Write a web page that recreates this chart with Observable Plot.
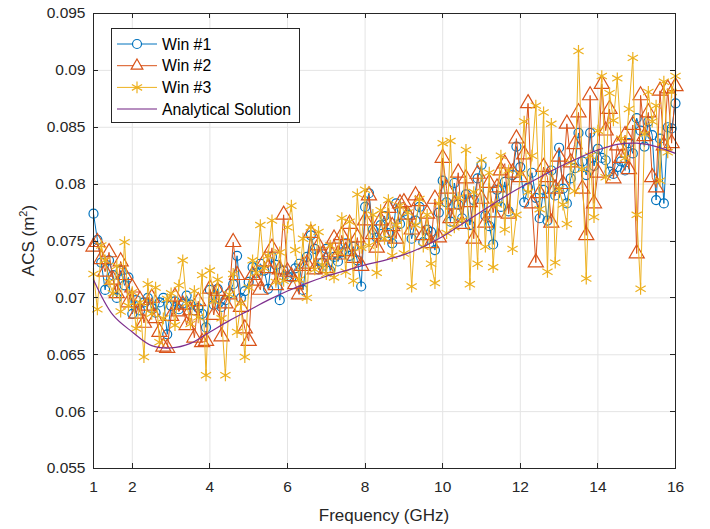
<!DOCTYPE html>
<html><head><meta charset="utf-8">
<script src="https://cdn.jsdelivr.net/npm/d3@7"></script>
<script src="https://cdn.jsdelivr.net/npm/@observablehq/plot@0.6"></script>
<style>
body{margin:0;background:#fff;}
#chart{width:710px;height:529px;}
</style></head><body><div id="chart"></div>
<script>
// Frequency grid (GHz): 1.0 to 16.0 in 0.1 GHz steps
const freqStart = 1, freqStep = 0.1;
// ACS values in units of 1e-3 m^2, one per frequency
const win1 = [
77.4,75.1,73.1,70.7,73.3,72.0,70.0,72.4,71.1,71.8,
68.6,69.8,68.9,69.6,70.0,69.1,68.7,69.6,70.0,66.8,
69.3,69.7,69.0,69.5,70.2,69.4,68.9,69.1,68.6,67.4,
70.7,69.4,70.8,69.2,69.8,70.4,71.2,73.7,70.0,70.6,
71.4,72.7,72.2,73.0,72.4,70.8,73.6,72.9,69.8,72.4,
71.9,71.8,72.6,73.0,70.7,73.6,75.5,74.3,72.5,73.1,
74.3,72.4,73.6,73.2,74.0,74.8,73.7,74.5,73.3,71.0,
78.0,79.2,76.0,75.3,76.4,77.2,75.7,74.8,78.3,76.5,
77.6,77.3,75.2,76.8,78.0,74.9,76.0,75.8,74.2,77.5,
80.3,78.4,76.7,80.1,78.2,77.0,79.1,76.4,78.6,80.5,
81.7,77.2,76.3,74.7,79.5,78.0,80.2,77.6,80.8,83.3,
81.5,78.4,79.7,81.0,78.8,77.0,79.5,76.8,81.2,79.0,
83.2,79.6,78.3,80.5,81.4,84.5,82.0,80.8,84.5,81.6,
83.1,82.3,82.1,81.1,80.9,81.5,82.0,81.2,83.6,82.7,
85.8,84.7,83.3,85.5,84.3,78.6,84.0,78.3,85.0,84.9,
87.1];
const win2 = [
74.5,74.9,73.4,72.3,74.0,71.6,70.4,73.2,72.0,69.6,
70.9,68.6,69.8,67.8,69.3,70.0,68.2,67.0,65.7,65.6,
68.4,70.1,68.8,69.4,67.6,68.9,66.5,69.7,66.1,66.2,
70.8,68.5,70.6,66.6,69.5,70.3,74.9,72.0,69.2,67.3,
66.2,72.0,71.5,70.7,73.2,72.6,74.4,71.1,72.5,77.3,
72.3,71.9,71.2,70.3,72.8,73.0,75.7,72.5,74.6,73.8,
72.6,74.0,75.2,73.8,75.5,74.1,76.5,73.5,75.3,72.8,
76.8,79.0,75.6,74.4,76.8,75.4,77.9,76.3,75.2,78.3,
78.4,77.3,76.0,79.0,78.5,75.5,77.4,74.8,78.7,75.3,
82.3,79.6,77.0,78.2,81.0,76.5,80.5,78.4,75.2,80.9,
78.7,76.6,80.1,77.5,79.7,81.2,81.8,77.4,81.0,84.0,
80.6,82.6,87.1,78.3,73.1,79.2,81.5,80.6,76.6,79.6,
82.4,80.0,85.3,81.9,83.5,86.3,79.6,75.5,87.8,78.3,
81.0,88.8,84.7,86.6,80.5,83.4,82.3,84.3,81.3,85.2,
73.9,87.8,84.2,86.3,80.6,79.7,88.2,83.4,88.4,83.6,
88.6];
const win3 = [
72.1,69.0,74.6,73.3,71.4,70.4,72.8,68.8,74.9,69.3,
70.5,67.3,69.6,64.8,71.2,68.6,70.9,66.1,68.2,69.9,
70.4,67.6,71.1,73.3,69.5,67.7,70.6,68.3,72.0,63.2,
72.4,69.7,71.6,68.2,63.2,70.3,72.1,67.0,69.5,64.8,
70.9,73.3,72.2,76.4,72.6,73.7,76.8,71.4,74.0,71.5,
76.2,78.1,74.2,71.6,75.2,70.0,76.2,72.5,75.8,72.9,
72.1,74.6,71.8,74.0,77.0,72.3,76.7,71.5,79.1,74.4,
79.5,74.6,77.3,72.2,77.7,75.2,78.6,73.7,76.4,78.1,
73.9,77.5,71.0,76.4,78.7,74.5,77.3,73.0,71.3,78.3,
83.6,75.7,83.8,76.2,78.8,76.8,83.0,71.2,79.3,73.0,
82.1,74.5,81.0,72.7,78.2,82.5,76.0,81.2,74.3,77.3,
80.9,85.5,79.3,82.5,86.9,77.8,86.3,72.3,85.3,73.1,
79.6,78.2,76.5,81.9,79.4,91.7,81.3,71.7,82.5,77.1,
84.7,89.5,80.6,88.0,85.6,89.3,84.0,82.3,86.6,91.1,
77.3,70.8,84.4,88.1,85.5,86.9,80.3,89.0,82.8,88.1,
89.5];
// Analytical solution (1e-3 m^2) at 0.5 GHz steps
const anaFreq = [1,1.5,2,2.5,3,3.5,4,4.5,5,5.5,6,6.5,7,7.5,8,8.5,9,9.5,10,10.5,11,11.5,12,12.5,13,13.5,14,14.5,15,15.5,16];
const anaVals = [71.6,68.5,67.0,65.8,65.6,66.0,67.0,68.0,68.9,69.8,70.6,71.3,71.9,72.4,72.9,73.3,73.8,74.5,75.4,76.5,77.6,78.7,79.7,80.6,81.5,82.3,83.0,83.5,83.6,83.3,82.7];

const xTicks = [1,2,4,6,8,10,12,14,16];
const yTicks = [0.055,0.06,0.065,0.07,0.075,0.08,0.085,0.09,0.095];
const seriesNames = ["Win #1","Win #2","Win #3","Analytical Solution"];
const colors = ["#0072BD","#D95319","#EDB120","#7E2F8E"];
const symbols = ["circle","triangle","asterisk",null];
const symbolR = [4.5,5.6,5.6];

const toRows = arr => arr.map((v,i)=>({f:+(freqStart+i*freqStep).toFixed(1), v:v/1000}));
const data = [win1,win2,win3].map(toRows);
const ana = anaFreq.map((f,i)=>({f, v:anaVals[i]/1000}));

const FONT = "'Liberation Sans', Arial, Helvetica, sans-serif";
const ML=93, MR=35, MT=13, MB=61, W=710, H=529;

const marks = [
  Plot.gridX(xTicks,{stroke:"#e4e4e4", strokeOpacity:1}),
  Plot.gridY(yTicks,{stroke:"#e4e4e4", strokeOpacity:1})
];
data.forEach((d,k)=>{
  marks.push(Plot.line(d,{x:"f",y:"v",stroke:colors[k],strokeWidth:1}));
  marks.push(Plot.dot(d,{x:"f",y:"v",symbol:symbols[k],stroke:colors[k],fill:"none",r:symbolR[k],strokeWidth:1.2}));
});
marks.push(Plot.line(ana,{x:"f",y:"v",stroke:colors[3],strokeWidth:1.2,curve:"catmull-rom"}));
marks.push(Plot.frame({stroke:"#262626"}));
marks.push(Plot.axisX(xTicks,{tickSize:0,tickPadding:12,label:null,fontSize:15.5,fill:"#262626"}));
marks.push(Plot.axisY(yTicks,{tickSize:0,tickPadding:8,label:null,fontSize:15.5,fill:"#262626",
  tickFormat:d=>String(+d.toFixed(3))}));

const plot = Plot.plot({
  width:W, height:H, marginLeft:ML, marginRight:MR, marginTop:MT, marginBottom:MB,
  style:{fontFamily:FONT, background:"#fff", overflow:"visible"},
  x:{domain:[1,16]},
  y:{domain:[0.055,0.095]},
  marks
});
document.getElementById("chart").appendChild(plot);

const svg = d3.select(plot);
const xs = plot.scale("x"), ys = plot.scale("y");
const TL = 5, axC = "#262626";
const tg = svg.append("g").attr("stroke",axC).attr("stroke-width",1);
xTicks.forEach(t=>{
  const x = Math.round(xs.apply(t))+0.5;
  tg.append("line").attr("x1",x).attr("x2",x).attr("y1",H-MB).attr("y2",H-MB-TL);
  tg.append("line").attr("x1",x).attr("x2",x).attr("y1",MT).attr("y2",MT+TL);
});
yTicks.forEach(t=>{
  const y = Math.round(ys.apply(t))+0.5;
  tg.append("line").attr("y1",y).attr("y2",y).attr("x1",ML).attr("x2",ML+TL);
  tg.append("line").attr("y1",y).attr("y2",y).attr("x1",W-MR).attr("x2",W-MR-TL);
});

// axis labels
svg.append("text").attr("x",(ML+W-MR)/2).attr("y",521).attr("text-anchor","middle")
  .attr("font-family",FONT).attr("font-size",17).attr("fill",axC).text("Frequency (GHz)");
const yl = svg.append("text").attr("transform",`translate(34,${(MT+H-MB)/2}) rotate(-90)`)
  .attr("text-anchor","middle").attr("font-family",FONT).attr("font-size",17).attr("fill",axC);
yl.append("tspan").text("ACS (m");
yl.append("tspan").attr("font-size",11).attr("dy",-7).text("2");
yl.append("tspan").attr("dy",7).text(")");

// legend
const lg = svg.append("g");
lg.append("rect").attr("x",111.5).attr("y",28.5).attr("width",188).attr("height",94)
  .attr("fill","#fff").attr("stroke",axC).attr("stroke-width",1);
const symMap = {circle:d3.symbolCircle, triangle:d3.symbolTriangle2, asterisk:d3.symbolAsterisk};
seriesNames.forEach((name,k)=>{
  const y = 44 + k*21.7;
  lg.append("line").attr("x1",117).attr("x2",157).attr("y1",y).attr("y2",y)
    .attr("stroke",k===3?"#b78fc0":colors[k]).attr("stroke-width",k===3?2:1);
  if (symbols[k]) {
    lg.append("path").attr("transform",`translate(137,${y})`)
      .attr("d",d3.symbol(symMap[symbols[k]], Math.PI*symbolR[k]*symbolR[k])())
      .attr("fill","#fff").attr("stroke",colors[k]).attr("stroke-width",1.2);
  }
  lg.append("text").attr("x",162).attr("y",y).attr("dy","0.35em").attr("text-anchor","start")
    .attr("font-family",FONT).attr("font-size",15.8).attr("fill","#000").text(name);
});
</script></body></html>
